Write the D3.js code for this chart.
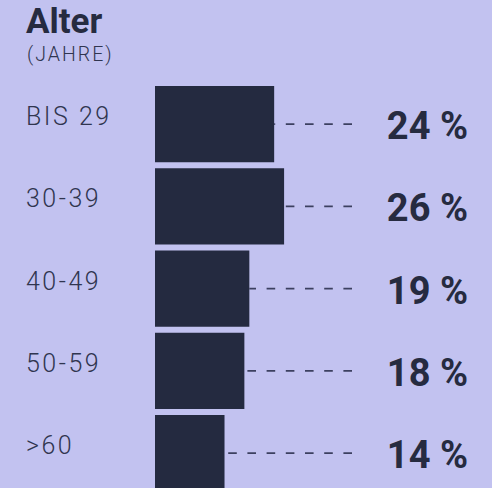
<!DOCTYPE html>
<html><head><meta charset="utf-8">
<script src="https://cdn.jsdelivr.net/npm/d3@7"></script>
<style>
html,body{margin:0;padding:0;background:#c2c2f0;}
svg{display:block;}
</style></head>
<body>
<script>
const categories = ["BIS 29", "30-39", "40-49", "50-59", ">60"];
const values = [24, 26, 19, 18, 14];
const valueLabels = ["24 %", "26 %", "19 %", "18 %", "14 %"];
const title = "Alter";
const subtitle = "(JAHRE)";

const W = 492, H = 488;
const svg = d3.select("body").append("svg").attr("width", W).attr("height", H);
svg.append("rect").attr("width", W).attr("height", H).attr("fill", "#c2c2f0");

const x = d3.scaleLinear().domain([0, 100]).range([155, 651.5]);
const y = d3.scaleBand().domain(categories).range([83, 83 + 5 * 82.25]).paddingInner(0.073).paddingOuter(0.0365);

const dark = "#242a40";

svg.append("text").attr("x", 26).attr("y", 33).text(title)
  .attr("font-family", "Roboto").attr("font-weight", 700).attr("font-size", 35).attr("fill", "#262b40");
svg.append("text").attr("x", 27).attr("y", 61).text(subtitle)
  .attr("font-family", "Roboto").attr("font-weight", 300).attr("font-size", 19.5).attr("letter-spacing", 2).attr("fill", "#30354f");

const rows = svg.selectAll("g.row").data(categories).join("g").attr("class", "row");

// dashed leader lines (anchored to right end)
rows.append("line")
  .attr("x1", 352).attr("x2", (d, i) => x(values[i]))
  .attr("y1", d => y(d) + y.bandwidth() / 2).attr("y2", d => y(d) + y.bandwidth() / 2)
  .attr("stroke", "#3c4060").attr("stroke-width", 1.6).attr("stroke-dasharray", "8.6,10.6");

rows.append("rect")
  .attr("x", x(0)).attr("y", d => y(d))
  .attr("width", (d, i) => x(values[i]) - x(0)).attr("height", y.bandwidth())
  .attr("fill", dark);

rows.append("text")
  .attr("x", 26).attr("y", d => y(d) + y.bandwidth() / 2 + 1)
  .text(d => d)
  .attr("font-family", "Roboto").attr("font-weight", 300).attr("font-size", 25).attr("letter-spacing", 2.5)
  .attr("fill", "#30354f");

rows.append("text")
  .attr("x", 468).attr("y", d => y(d) + y.bandwidth() / 2 + 15)
  .attr("text-anchor", "end")
  .text((d, i) => valueLabels[i])
  .attr("font-family", "Roboto").attr("font-weight", 700).attr("font-size", 38)
  .attr("fill", "#262b40");
</script>
</body></html>
